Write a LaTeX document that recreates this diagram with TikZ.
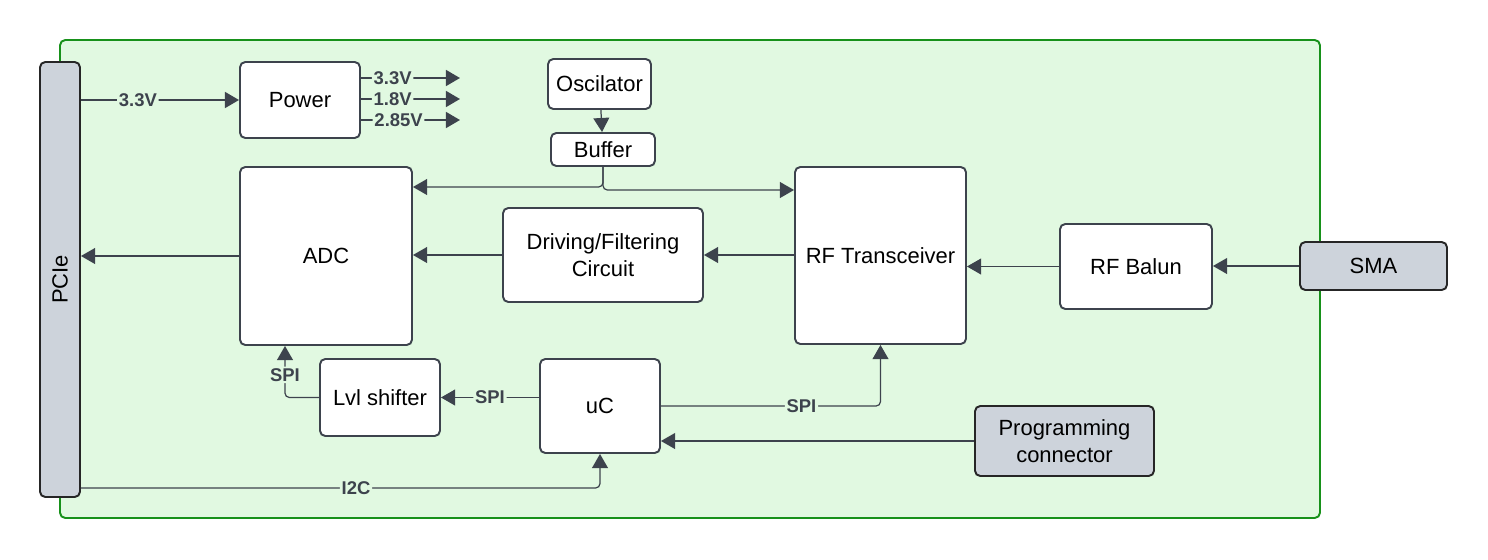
\documentclass[tikz,border=0pt]{standalone}
\usepackage{fontspec}
\setmainfont{Liberation Sans}
\usepackage{tikz}
\usepackage{xcolor}
\usetikzlibrary{positioning,shapes,arrows.meta}
\definecolor{linecol}{HTML}{3D434D}
\definecolor{boardfill}{HTML}{E1F9E1}
\definecolor{boardline}{HTML}{17911A}
\definecolor{portfill}{HTML}{CDD3DB}
\begin{document}
\begin{tikzpicture}[x=0.2mm,y=-0.2mm,
  block/.style={draw=linecol,fill=white,line width=1.1pt,rounded corners=3pt,
    align=center,inner sep=0pt,font=\fontsize{12.5}{15}\selectfont},
  port/.style={block,draw=black!85,fill=portfill},
  conn/.style={draw=linecol,line width=0.7pt,rounded corners=2.5pt,
    -{Triangle[length=8pt,width=9pt]}},
  rail/.style={conn,line width=1.2pt},
  lbl/.style={fill=boardfill,inner sep=1pt,text=linecol,
    font=\fontsize{10.5}{12}\selectfont\bfseries}]
\useasboundingbox (0,0) rectangle (1488,559);
\draw [boardline,fill=boardfill,line width=1.1pt,rounded corners=3pt] (60,40) rectangle (1320,518);
\node [port,minimum width=8mm,minimum height=87mm] (pcie) at (60,279.5) {};
\node [rotate=90,font=\fontsize{12.5}{15}\selectfont] (pcietext) at (pcie) {PCIe};
\node [block,minimum width=24mm,minimum height=15.2mm] (power) at (300,100) {Power};
\node [block,minimum width=20.6mm,minimum height=10mm] (osc) at (599.5,84) {Oscilator};
\node [block,minimum width=20.8mm,minimum height=6.6mm] (buffer) at (603,149.5) {Buffer};
\node [block,minimum width=34.4mm,minimum height=35.6mm] (adc) at (326,256) {ADC};
\node [block,minimum width=40mm,minimum height=18.8mm] (drive) at (603,255) {Driving/Filtering\\Circuit};
\node [block,minimum width=34.2mm,minimum height=35.4mm] (rftrx) at (880.5,255.5) {RF Transceiver};
\node [block,minimum width=30.4mm,minimum height=17mm] (balun) at (1136,266.5) {RF Balun};
\node [port,minimum width=29.4mm,minimum height=9.6mm] (sma) at (1373.5,266) {SMA};
\node [block,minimum width=24mm,minimum height=15.4mm] (lvl) at (380,397.5) {Lvl shifter};
\node [block,minimum width=24mm,minimum height=18.8mm] (uc) at (600,406) {uC};
\node [port,minimum width=35.8mm,minimum height=14mm] (prog) at (1064.5,441) {Programming\\connector};
\coordinate (v33) at (460,78);
\coordinate (v18) at (460,99);
\coordinate (v285) at (460,120);
\coordinate (clkl) at (0,187);
\coordinate (clkr) at (0,190);
\coordinate (spiadc) at (285,0);
\coordinate (i2c) at (0,488);
\draw [rail] (pcie.east |- power.west) -- node [lbl,pos=0.36] {3.3V} (power.west);
\draw [rail] (power.east |- v33) -- node [lbl,pos=0.32] {3.3V} (v33);
\draw [rail] (power.east |- v18) -- node [lbl,pos=0.32] {1.8V} (v18);
\draw [rail] (power.east |- v285) -- node [lbl,pos=0.38] {2.85V} (v285);
\draw [conn] (osc) -- (buffer);
\draw [conn] (buffer.south) |- (adc.east |- clkl);
\draw [conn] (buffer.south) |- (rftrx.west |- clkr);
\draw [conn] (adc.west) -- (pcie.east |- adc.west);
\draw [conn] (drive.west) -- (adc.east |- drive.west);
\draw [conn] (rftrx.west |- drive.east) -- (drive.east);
\draw [conn] (balun.west) -- (rftrx.east |- balun.west);
\draw [conn] (sma.west) -- (balun.east |- sma.west);
\draw [conn] (uc.west |- lvl.east) -- node [lbl] {SPI} (lvl.east);
\draw [conn] (lvl.west) -| node [lbl,pos=0.72] {SPI} (adc.south -| spiadc);
\draw [conn] (uc.east) -| node [lbl,pos=0.32] {SPI} (rftrx.south);
\draw [conn] (prog.west) -- (uc.east |- prog.west);
\draw [conn] (pcie.east |- i2c) -| node [lbl,pos=0.265] {I2C} (uc.south);
\end{tikzpicture}
\end{document}
